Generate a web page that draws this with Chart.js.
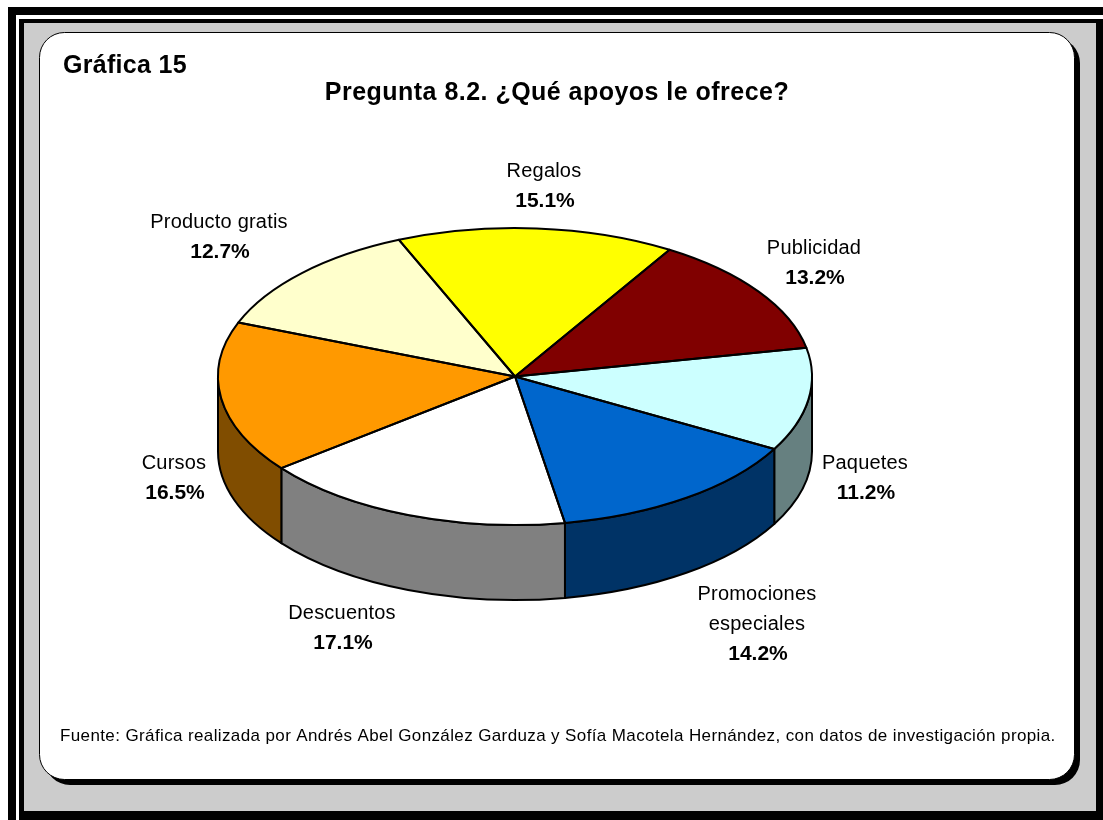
<!DOCTYPE html>
<html lang="es">
<head>
<meta charset="utf-8">
<title>Gráfica 15</title>
<script src="https://cdn.jsdelivr.net/npm/chart.js@4"></script>
<style>
  html, body { margin: 0; padding: 0; background: #fff; overflow: hidden; }
  canvas { display: block; }
</style>
</head>
<body>
<canvas id="chart" width="1103" height="820"></canvas>
<script>
// Survey answers, clockwise from the Regalos slice
const categories = ['Regalos', 'Publicidad', 'Paquetes', 'Promociones especiales', 'Descuentos', 'Cursos', 'Producto gratis'];
const categoryLines = [['Regalos'], ['Publicidad'], ['Paquetes'], ['Promociones', 'especiales'], ['Descuentos'], ['Cursos'], ['Producto gratis']];
const percentages = [15.1, 13.2, 11.2, 14.2, 17.1, 16.5, 12.7];
const topColors = ['#FFFF00', '#800000', '#CCFFFF', '#0066CC', '#FFFFFF', '#FF9900', '#FFFFCC'];
const sideColors = ['#808000', '#400000', '#668080', '#003366', '#808080', '#804D00', '#808066'];

const figureLabel = 'Gráfica 15';
const chartTitle = 'Pregunta 8.2. ¿Qué apoyos le ofrece?';
const sourceNote = 'Fuente: Gráfica realizada por Andrés Abel González Garduza y Sofía Macotela Hernández, con datos de investigación propia.';

// Centre of each data label's first line
const labelAnchors = [[544, 171], [814, 248], [865, 463], [757, 594], [342, 613], [174, 463], [219, 222]];

const FONT = '"Liberation Sans", Arial, sans-serif';
const TILT = 0.5;        // vertical squash of the pie disc
const DEPTH = 75;        // height of the disc wall
const OUTLINE = 2;

function drawText(ctx, text, x, y, font, align, spacing) {
  ctx.font = font;
  ctx.textAlign = align;
  ctx.textBaseline = 'middle';
  ctx.letterSpacing = (spacing || 0) + 'px';
  ctx.fillStyle = '#000';
  ctx.fillText(text, x, y);
  ctx.letterSpacing = '0px';
}

// Gray page, nested black frames and the white rounded card with its hard shadow
const framePlugin = {
  id: 'frame',
  beforeDraw(chart) {
    const ctx = chart.ctx;
    ctx.save();
    ctx.fillStyle = '#fff';
    ctx.fillRect(0, 0, 1103, 820);
    ctx.fillStyle = '#000';
    ctx.fillRect(8, 7, 1095, 8);
    ctx.fillRect(8, 7, 8, 813);
    ctx.fillRect(19, 19, 1084, 801);
    ctx.fillStyle = '#CCCCCC';
    ctx.fillRect(24, 23, 1072, 788);
    ctx.fillStyle = '#000';
    ctx.beginPath();
    ctx.roundRect(45, 38, 1035, 747, 25);
    ctx.fill();
    ctx.fillStyle = '#fff';
    ctx.strokeStyle = '#000';
    ctx.lineWidth = 1;
    ctx.beginPath();
    ctx.roundRect(39.5, 32.5, 1035, 747, 25);
    ctx.fill();
    ctx.stroke();
    ctx.restore();
  }
};

// Turns the flat pie into a tilted disc: walls first, squashed slices, then outlines
const discPlugin = {
  id: 'disc',
  beforeDatasetsDraw(chart) {
    const ctx = chart.ctx;
    const arcs = chart.getDatasetMeta(0).data;
    const { x: cx, y: cy, outerRadius: r } = arcs[0];
    const ry = r * TILT;
    ctx.save();
    ctx.lineWidth = OUTLINE;
    ctx.strokeStyle = '#000';
    ctx.lineJoin = 'round';
    arcs.forEach((arc, i) => {
      for (let k = -1; k <= 1; k++) {
        const lo = Math.max(arc.startAngle, 2 * Math.PI * k);
        const hi = Math.min(arc.endAngle, 2 * Math.PI * k + Math.PI);
        if (hi <= lo) continue;
        ctx.beginPath();
        ctx.ellipse(cx, cy, r, ry, 0, lo, hi);
        ctx.ellipse(cx, cy + DEPTH, r, ry, 0, hi, lo, true);
        ctx.closePath();
        ctx.fillStyle = sideColors[i];
        ctx.fill();
        ctx.stroke();
      }
    });
    ctx.restore();
    ctx.save();
    ctx.translate(cx, cy);
    ctx.scale(1, TILT);
    ctx.translate(-cx, -cy);
  },
  afterDatasetsDraw(chart) {
    const ctx = chart.ctx;
    ctx.restore();
    const arcs = chart.getDatasetMeta(0).data;
    const { x: cx, y: cy, outerRadius: r } = arcs[0];
    ctx.save();
    ctx.lineWidth = OUTLINE;
    ctx.strokeStyle = '#000';
    ctx.lineJoin = 'round';
    arcs.forEach(arc => {
      ctx.beginPath();
      ctx.moveTo(cx, cy);
      ctx.ellipse(cx, cy, r, r * TILT, 0, arc.startAngle, arc.endAngle);
      ctx.closePath();
      ctx.stroke();
    });
    ctx.restore();
  }
};

// Heading, source line and the category / percentage labels
const textPlugin = {
  id: 'texts',
  afterDraw(chart) {
    const ctx = chart.ctx;
    ctx.save();
    drawText(ctx, figureLabel, 63, 66, 'bold 25px ' + FONT, 'left', 0.3);
    drawText(ctx, chartTitle, 557, 93, 'bold 25px ' + FONT, 'center', 0.47);
    drawText(ctx, sourceNote, 60, 736, '17px ' + FONT, 'left', 0.38);
    categoryLines.forEach((lines, i) => {
      const [x, y] = labelAnchors[i];
      lines.forEach((line, j) => drawText(ctx, line, x, y + j * 30, '20px ' + FONT, 'center', 0.2));
      drawText(ctx, percentages[i].toFixed(1) + '%', x + 1, y + lines.length * 30, 'bold 21px ' + FONT, 'center');
    });
    ctx.restore();
  }
};

new Chart(document.getElementById('chart'), {
  type: 'pie',
  data: {
    labels: categories,
    datasets: [{
      data: percentages,
      backgroundColor: topColors,
      borderWidth: 0
    }]
  },
  options: {
    responsive: false,
    animation: false,
    events: [],
    rotation: -23,
    layout: { padding: { left: 218, right: 291, top: 79.5, bottom: 146.5 } },
    plugins: { legend: { display: false }, title: { display: false }, tooltip: { enabled: false } }
  },
  plugins: [framePlugin, discPlugin, textPlugin]
});
</script>
</body>
</html>
